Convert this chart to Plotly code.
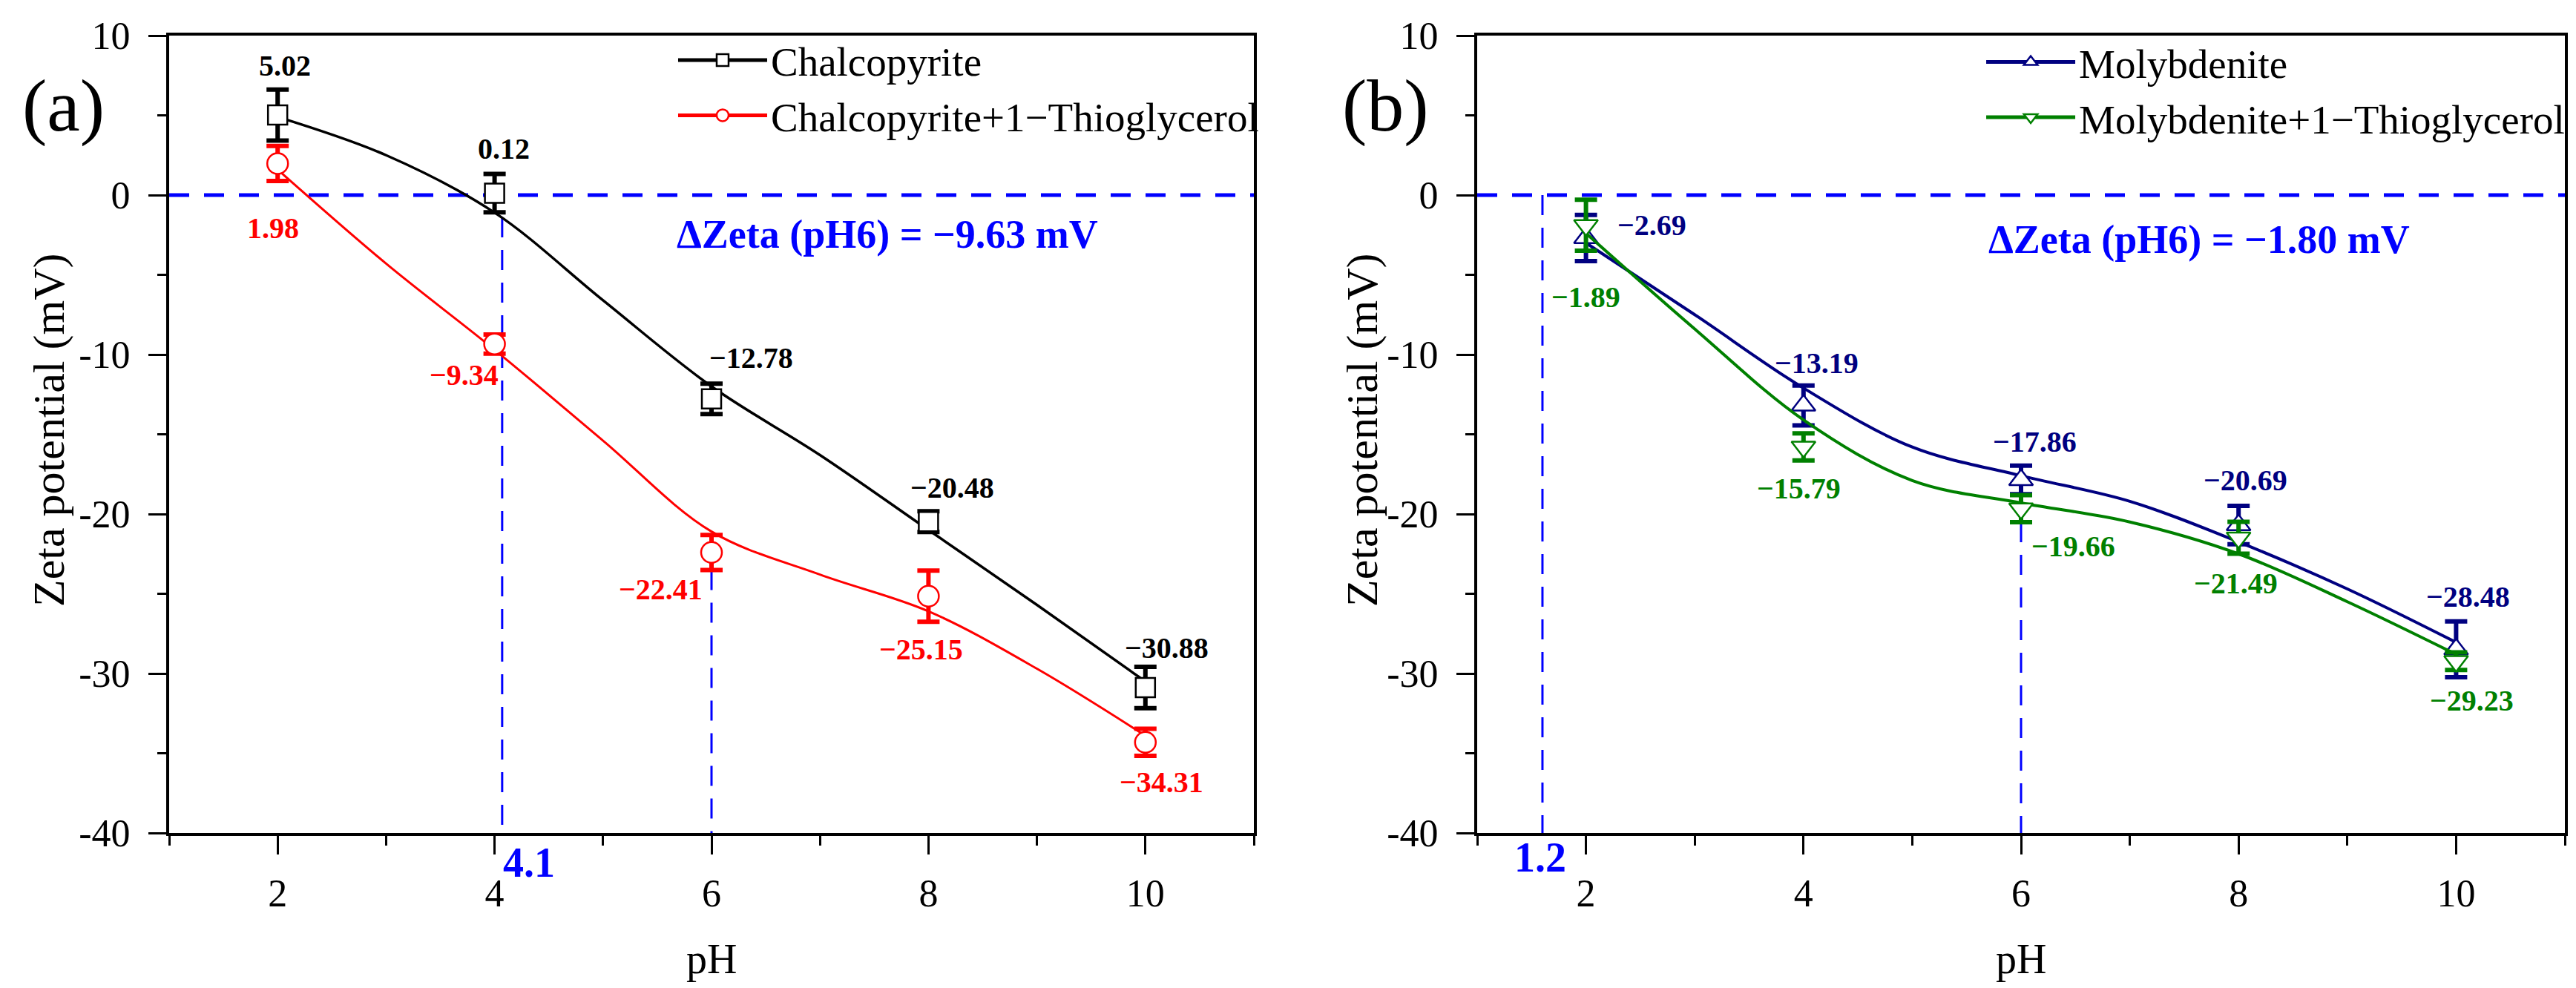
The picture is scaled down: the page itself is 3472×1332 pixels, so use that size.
import plotly.graph_objects as go

# ---- data ----
ph = [2, 4, 6, 8, 10]

chalco = [5.02, 0.12, -12.78, -20.48, -30.88]
chalco_err = [1.6, 1.2, 0.95, 0.65, 1.3]
chalco_tg = [1.98, -9.34, -22.41, -25.15, -34.31]
chalco_tg_err = [1.1, 0.6, 1.1, 1.6, 0.85]

molyb = [-2.69, -13.19, -17.86, -20.69, -28.48]
molyb_err = [1.45, 1.25, 0.9, 1.2, 1.75]
molyb_tg = [-1.89, -15.79, -19.66, -21.49, -29.23]
molyb_tg_err = [1.6, 0.85, 0.85, 1.0, 0.55]

# smoothed fit curves as drawn in the figure
fit_ph = [2, 3, 4, 5, 6, 7, 8, 9, 10]
chalco_fit = [4.9, 2.5, -1.1, -6.6, -12.0, -16.3, -21.0, -25.7, -30.5]
chalco_tg_fit = [1.6, -4.3, -9.7, -15.4, -21.1, -23.8, -26.1, -29.7, -33.9]
molyb_fit = [-3.0, -7.5, -12.1, -15.8, -17.6, -19.2, -21.75, -24.7, -28.05]
molyb_tg_fit = [-2.4, -8.4, -14.1, -17.9, -19.3, -20.5, -22.5, -25.5, -28.8]

iep_a, iep_b = 4.07, 1.6
iep_a_text, iep_b_text = "4.1", "1.2"
dzeta_a = "ΔZeta (pH6) = −9.63 mV"
dzeta_b = "ΔZeta (pH6) = −1.80 mV"

ytick_vals = [-40, -30, -20, -10, 0, 10]
ytick_text = ["-40", "-30", "-20", "-10", "0", "10"]

# label offsets (px) from each point
chalco_shift = [(10, 67), (12, 60), (53, 55), (32, 46), (29, 53)]
chalco_tg_shift = [(-6, -87), (-41, -42), (-69, -50), (-10, -72), (22, -54)]
molyb_shift = [(89, 17), (18, 57), (18, 51), (9, 60), (16, 71)]
molyb_tg_shift = [(0, -97), (-6, -56), (70, -51), (-4, -61), (21, -53)]

FONT = "Liberation Serif"
BLACK, RED, NAVY, GREEN, BLUE = "#000000", "#FF0000", "#000080", "#008000", "#0000FF"

fig = go.Figure()


def add_series(name, y, err, fit, color, symbol, msize, lw, xa, ya, legend):
    fig.add_trace(go.Scatter(
        x=fit_ph, y=fit, mode="lines", line=dict(color=color, width=lw, shape="spline", smoothing=1.0),
        showlegend=False, xaxis=xa, yaxis=ya, hoverinfo="skip"))
    fig.add_trace(go.Scatter(
        x=ph, y=y, mode="markers", showlegend=False, xaxis=xa, yaxis=ya,
        marker=dict(symbol=symbol, size=msize, color="white", line=dict(color=color, width=2.5)),
        error_y=dict(type="data", array=err, visible=True, color=color, thickness=6, width=15)))
    # legend entry
    fig.add_trace(go.Scatter(
        x=[None], y=[None], mode="lines+markers", name=name, legend=legend, xaxis=xa, yaxis=ya,
        line=dict(color=color, width=5),
        marker=dict(symbol=symbol, size=msize, color="white", line=dict(color=color, width=2.5))))


add_series("Chalcopyrite", chalco, chalco_err, chalco_fit, BLACK, "square", 26, 3.5, "x", "y", "legend")
add_series("Chalcopyrite+1−Thioglycerol", chalco_tg, chalco_tg_err, chalco_tg_fit, RED, "circle", 28, 3, "x", "y", "legend")
add_series("Molybdenite", molyb, molyb_err, molyb_fit, NAVY, "triangle-up", 28, 4, "x2", "y2", "legend2")
add_series("Molybdenite+1−Thioglycerol", molyb_tg, molyb_tg_err, molyb_tg_fit, GREEN, "triangle-down", 28, 4, "x2", "y2", "legend2")


def fmt(v):
    return f"{v:.2f}".replace("-", "−")


annotations = []
for vals, shifts, color, xr, yr in [
    (chalco, chalco_shift, BLACK, "x", "y"),
    (chalco_tg, chalco_tg_shift, RED, "x", "y"),
    (molyb, molyb_shift, NAVY, "x2", "y2"),
    (molyb_tg, molyb_tg_shift, GREEN, "x2", "y2"),
]:
    for xv, yv, (dx, dy) in zip(ph, vals, shifts):
        annotations.append(dict(x=xv, y=yv, xref=xr, yref=yr, text=f"<b>{fmt(yv)}</b>", showarrow=False,
                                xshift=dx, yshift=dy, font=dict(family=FONT, size=40, color=color)))


def note(x, y, xref, yref, text, size, color="black", angle=0):
    return dict(x=x, y=y, xref=xref, yref=yref, text=text, showarrow=False, textangle=angle,
                xanchor="center", yanchor="middle", font=dict(family=FONT, size=size, color=color))


annotations += [
    note(7.62, -2.47, "x", "y", f"<b>{dzeta_a}</b>", 54, BLUE),
    note(7.64, -2.8, "x2", "y2", f"<b>{dzeta_b}</b>", 54, BLUE),
    note(4.32, 1 - 1155 / 1332, "x", "paper", f"<b>{iep_a_text}</b>", 56, BLUE),
    note(1.58, 1 - 1148 / 1332, "x2", "paper", f"<b>{iep_b_text}</b>", 56, BLUE),
    # panel tags
    note(77 / 3472, 1 - 134 / 1332, "paper", "paper", "(a)", 100),
    note(1859 / 3472, 1 - 134 / 1332, "paper", "paper", "(b)", 100),
    # axis titles
    note(58 / 3472, 1 - 572 / 1332, "paper", "paper", "Zeta potential (mV)", 60, angle=-90),
    note(1828 / 3472, 1 - 572 / 1332, "paper", "paper", "Zeta potential (mV)", 60, angle=-90),
    note(951 / 3472, 1 - 1285 / 1332, "paper", "paper", "pH", 56),
    note(2716 / 3472, 1 - 1285 / 1332, "paper", "paper", "pH", 56),
]

dash = "27px,20px"
vdash = "27px,17px"
shapes = [
    dict(type="line", xref="x domain", yref="y", x0=0, x1=1, y0=0, y1=0, layer="below",
         line=dict(color=BLUE, width=5, dash=dash)),
    dict(type="line", xref="x2 domain", yref="y2", x0=0, x1=1, y0=0, y1=0, layer="below",
         line=dict(color=BLUE, width=5, dash=dash)),
    dict(type="line", xref="x", yref="y", x0=iep_a, x1=iep_a, y0=-1.4, y1=-40, layer="below",
         line=dict(color=BLUE, width=3, dash=vdash)),
    dict(type="line", xref="x", yref="y", x0=6, x1=6, y0=chalco_tg[2] - chalco_tg_err[2], y1=-40, layer="below",
         line=dict(color=BLUE, width=3, dash=vdash)),
    dict(type="line", xref="x2", yref="y2", x0=iep_b, x1=iep_b, y0=0, y1=-40, layer="below",
         line=dict(color=BLUE, width=3, dash=vdash)),
    dict(type="line", xref="x2", yref="y2", x0=6, x1=6, y0=molyb_tg[2] - molyb_tg_err[2], y1=-40, layer="below",
         line=dict(color=BLUE, width=3, dash=vdash)),
]

xax = dict(range=[1, 11], tickmode="linear", tick0=0, dtick=2, ticks="outside", ticklen=25, tickwidth=3,
           tickcolor="black", showline=True, linewidth=4, linecolor="black", mirror=True, showgrid=False,
           zeroline=False, automargin=False, ticklabelstandoff=8,
           tickfont=dict(family=FONT, size=52, color="black"),
           minor=dict(tickmode="linear", tick0=1, dtick=2, ticks="outside", ticklen=13, tickwidth=3,
                      tickcolor="black", showgrid=False))
yax = dict(range=[-40, 10], tickmode="array", tickvals=ytick_vals, ticktext=ytick_text, ticks="outside",
           ticklen=24, tickwidth=3, tickcolor="black", showline=True, linewidth=4, linecolor="black",
           mirror=True, showgrid=False, zeroline=False, automargin=False, ticklabelstandoff=14,
           tickfont=dict(family=FONT, size=52, color="black"),
           minor=dict(tickmode="linear", tick0=-35, dtick=10, ticks="outside", ticklen=12, tickwidth=3,
                      tickcolor="black", showgrid=False))

legend_style = dict(xanchor="left", yanchor="top", bgcolor="rgba(0,0,0,0)", itemwidth=120,
                    font=dict(family=FONT, size=55, color="black"), tracegroupgap=0)

ydom = [1 - 1115 / 1332, 1 - 40 / 1332]
fig.update_layout(
    width=3472, height=1332,
    margin=dict(l=0, r=0, t=0, b=0),
    paper_bgcolor="white", plot_bgcolor="white",
    xaxis=dict(xax, domain=[220 / 3472, 1682 / 3472]),
    yaxis=dict(yax, domain=ydom),
    xaxis2=dict(xax, domain=[1983 / 3472, 3449 / 3472], anchor="y2"),
    yaxis2=dict(yax, domain=ydom, anchor="x2"),
    legend=dict(legend_style, x=0.2595, y=0.977),
    legend2=dict(legend_style, x=0.7673, y=0.975),
    annotations=annotations,
    shapes=shapes,
)

fig.write_html("out.html")
